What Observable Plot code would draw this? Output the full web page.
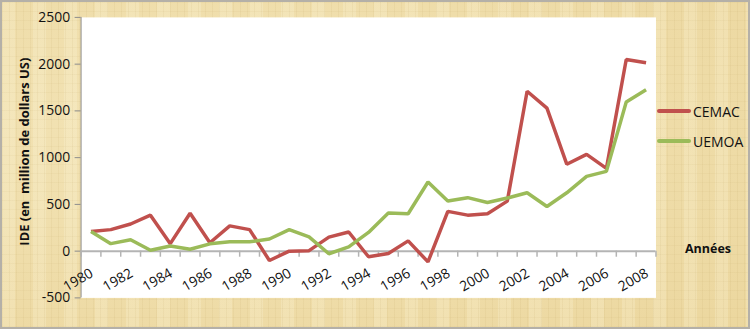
<!DOCTYPE html>
<html>
<head>
<meta charset="utf-8">
<script src="https://cdn.jsdelivr.net/npm/d3@7"></script>
<script src="https://cdn.jsdelivr.net/npm/@observablehq/plot@0.6"></script>
<style>
  html, body { margin: 0; padding: 0; background: #fff; }
  #wrap {
    position: relative; width: 750px; height: 329px; box-sizing: border-box;
    border: 2px solid #b4b0a8;
    background-color: #eedba6;
    background-image:
      repeating-linear-gradient(90deg, rgba(170,140,70,0.08) 0 1px, transparent 1px 7px),
      repeating-linear-gradient(0deg, rgba(170,140,70,0.06) 0 1px, transparent 1px 9px),
      repeating-linear-gradient(90deg, rgba(255,250,225,0.22) 0 13px, transparent 13px 31px),
      radial-gradient(ellipse at 30% 40%, rgba(245,232,190,0.7), rgba(230,205,140,0.3));
    font-family: "Open Sans", Lato, sans-serif;
    overflow: hidden;
  }
  #wrap svg { position: absolute; left: -2px; top: -2px; background: transparent; }
  .legend { position: absolute; font-size: 14px; color: #111; font-family: "Open Sans", sans-serif; }
  .legend div { display: flex; align-items: center; height: 30px; }
  .legend span.sw { display: inline-block; width: 34px; height: 4px; margin-right: 2px; border-radius: 2px; }
  .annees { position: absolute; font-weight: bold; font-size: 12.5px; color: #111; }
</style>
</head>
<body>
<div id="wrap"></div>
<script>
const years = d3.range(1980, 2009);
const cemac = [210, 230, 290, 385, 80, 405, 90, 270, 230, -100, 0, 5, 150, 205, -60, -25, 110, -115, 425, 385, 400, 535, 1710, 1530, 930, 1035, 885, 2050, 2015];
const uemoa = [210, 80, 122, 10, 55, 20, 78, 100, 100, 130, 230, 152, -28, 45, 200, 408, 400, 740, 536, 572, 520, 568, 624, 478, 624, 800, 853, 1596, 1727];
const yTicks = [-500, 0, 500, 1000, 1500, 2000, 2500];
const xLabelYears = years.filter(y => y % 2 === 0);
const seriesNames = ["CEMAC", "UEMOA"];
const seriesColors = ["#c0504d", "#9bbb59"];

const rows = [];
years.forEach((yr, i) => {
  rows.push({year: yr, value: cemac[i], series: "CEMAC"});
  rows.push({year: yr, value: uemoa[i], series: "UEMOA"});
});
const boundaries = d3.range(years[0] - 0.5, years[years.length - 1] + 1, 1);
const x0 = years[0] - 0.5;

const chart = Plot.plot({
  width: 750,
  height: 329,
  marginLeft: 81,
  marginRight: 91,
  marginTop: 17,
  marginBottom: 30,
  style: {fontFamily: "'Open Sans', Lato, sans-serif", fontSize: "13px", background: "transparent"},
  x: {type: "linear", domain: [x0, years[years.length - 1] + 0.5], axis: null},
  y: {type: "linear", domain: [-500, 2500], axis: null},
  color: {domain: seriesNames, range: seriesColors},
  marks: [
    Plot.frame({fill: "white", stroke: null}),
    // y axis line and ticks
    Plot.ruleX([x0], {y1: -500, y2: 2500, stroke: "#8c8c8c", strokeWidth: 1}),
    Plot.ruleY(yTicks, {y: d => d, x1: x0 - 0.3, x2: x0, stroke: "#8c8c8c", strokeWidth: 1}),
    Plot.text(yTicks, {y: d => d, x: x0, dx: -11, text: d => String(d), textAnchor: "end", fill: "#111", fontSize: 14}),
    // x axis at zero
    Plot.ruleY([0], {stroke: "#b4b4b4", strokeWidth: 2}),
    Plot.ruleX(boundaries, {x: d => d, y1: 0, y2: -65, stroke: "#b4b4b4", strokeWidth: 1.5}),
    Plot.text(xLabelYears, {x: d => d, y: 0, text: d => String(d), rotate: -30, textAnchor: "end", dy: 21, dx: 1, fill: "#111", fontSize: 14}),
    // series
    Plot.line(rows, {x: "year", y: "value", z: "series", stroke: "series", strokeWidth: 3.5, strokeLinejoin: "miter", strokeLinecap: "butt"}),
    // y label
    Plot.text(["IDE (en  million de dollars US)"], {frameAnchor: "left", textAnchor: "middle", dx: -57, dy: -6, rotate: -90, fontWeight: "bold", fontSize: 13, fill: "#111"})
  ]
});
const wrap = document.getElementById("wrap");
wrap.appendChild(chart);

const legend = document.createElement("div");
legend.className = "legend";
legend.style.left = "655px";
legend.style.top = "94px";
seriesNames.forEach((n, i) => {
  const row = document.createElement("div");
  const sw = document.createElement("span");
  sw.className = "sw";
  sw.style.background = seriesColors[i];
  row.appendChild(sw);
  row.appendChild(document.createTextNode(n));
  legend.appendChild(row);
});
wrap.appendChild(legend);

const an = document.createElement("div");
an.className = "annees";
an.textContent = "Années";
an.style.left = "683px";
an.style.top = "238px";
wrap.appendChild(an);
</script>
</body>
</html>
